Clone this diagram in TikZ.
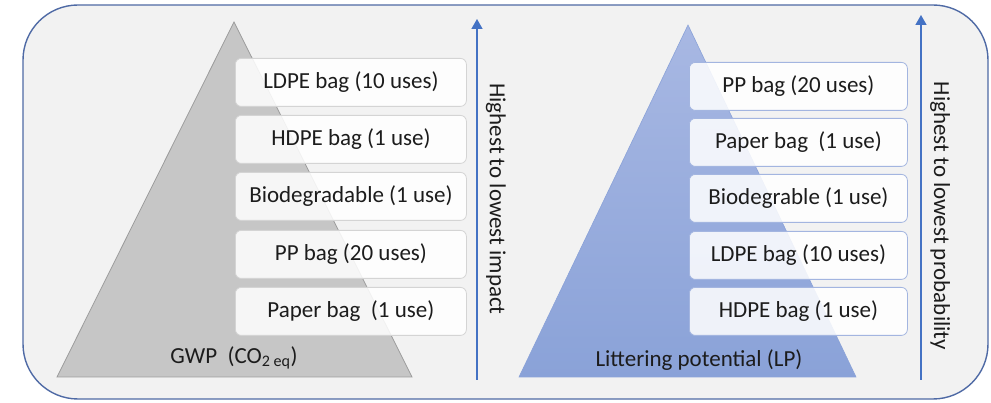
\documentclass[tikz,border=0pt]{standalone}
\usepackage{fontspec}
\setmainfont{Carlito}
\usetikzlibrary{arrows.meta}
\definecolor{framefill}{HTML}{F2F2F2}
\definecolor{frameline}{HTML}{4F6AA5}
\definecolor{greytri}{HTML}{C6C6C6}
\definecolor{greyedge}{HTML}{9C9C9C}
\definecolor{bluetop}{HTML}{A8B8E3}
\definecolor{bluebot}{HTML}{8AA2D8}
\definecolor{arrowblue}{HTML}{4472C4}
\definecolor{txt}{HTML}{1C1C1C}
\definecolor{greybox}{HTML}{D4D4D4}
\definecolor{bluebox}{HTML}{A3B5E0}
\tikzset{
  frame/.style={draw=frameline, line width=1.4pt, fill=framefill, rounded corners=55pt},
  bagbox/.style={rectangle, rounded corners=6pt, fill=white, fill opacity=0.86,
    text opacity=1, line width=0.8pt, minimum width=#1, minimum height=48pt,
    anchor=north west, inner sep=0pt, font=\fontsize{23}{26}\selectfont, text=txt},
  greyitem/.style={bagbox=231pt, draw=greybox},
  blueitem/.style={bagbox=218pt, draw=bluebox},
  rank/.style={draw=arrowblue, line width=1.4pt, -{Triangle[width=11pt,length=10pt]}},
  ranklabel/.style={rotate=-90, font=\fontsize{23}{26}\selectfont, text=txt, inner sep=0pt},
  baselabel/.style={font=\fontsize{23}{26}\selectfont, text=txt, inner sep=0pt}
}
\begin{document}
\begin{tikzpicture}[x=1pt,y=-1pt]
\useasboundingbox (0,0) rectangle (991,403);
% outer panel
\path[frame] (23,5) rectangle (988,399);

% GWP pyramid
\filldraw[fill=greytri, draw=greyedge, line width=0.8pt] (234,22) -- (412,377) -- (57,377) -- cycle;
\node[greyitem] (g1) at (235,58)  {LDPE bag (10 uses)};
\node[greyitem] (g2) at (235,115) {HDPE bag (1 use)};
\node[greyitem] (g3) at (235,172) {Biodegradable (1 use)};
\node[greyitem] (g4) at (235,230) {PP bag (20 uses)};
\node[greyitem] (g5) at (235,287) {Paper bag\ \ (1 use)};
\node[baselabel] (gwp) at (234,358) {GWP\ \ (CO\textsubscript{2 eq})};

% impact arrow
\coordinate (ia) at (477,380);
\coordinate (ib) at (477,19);
\draw[rank] (ia) -- (ib);
\node[ranklabel] (il) at (496,199) {Highest to lowest impact};

% LP pyramid
\path[top color=bluetop, bottom color=bluebot, draw=bluebot, line width=0.6pt]
  (688,25) -- (856,377) -- (519,377) -- cycle;
\node[blueitem] (b1) at (689,62)  {PP bag (20 uses)};
\node[blueitem] (b2) at (689,118) {Paper bag\ \ (1 use)};
\node[blueitem] (b3) at (689,174) {Biodegrable (1 use)};
\node[blueitem] (b4) at (689,231) {LDPE bag (10 uses)};
\node[blueitem] (b5) at (689,287) {HDPE bag (1 use)};
\node[baselabel] (lp) at (699,360) {Littering potential (LP)};

% probability arrow
\coordinate (pa) at (921,380);
\coordinate (pb) at (921,15);
\draw[rank] (pa) -- (pb);
\node[ranklabel] (pl) at (940,216) {Highest to lowest probability};
\end{tikzpicture}
\end{document}
